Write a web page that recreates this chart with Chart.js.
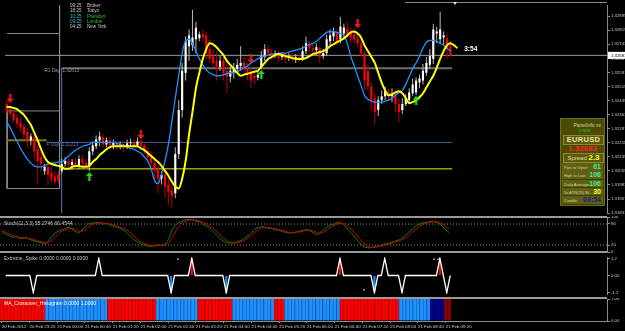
<!DOCTYPE html>
<html>
<head>
<meta charset="utf-8">
<script src="https://cdn.jsdelivr.net/npm/chart.js@4.4.1/dist/chart.umd.min.js"></script>
<style>
  body { margin: 0; background: #000; }
  #wrap { position: relative; width: 625px; height: 331px; background: #000; overflow: hidden;
          font-family: "Liberation Sans", "DejaVu Sans", Arial, sans-serif; }
  canvas { position: absolute; left: 0; background: #000; }
  #c-main { top: 0; }
  #c-stoch { top: 216px; }
  #c-spike { top: 253px; }
  #c-hist { top: 298px; }
  .sep { position: absolute; left: 0; width: 607px; height: 2px; background: #9a9a9a; }
  .pane-lbl { position: absolute; left: 4px; font-size: 5px; line-height: 6px; color: #c4c4c4; white-space: nowrap; }
  #clock { position: absolute; left: 70px; top: 3px; font-size: 4.6px; line-height: 5.3px; white-space: nowrap; }
  #clock span { display: inline-block; width: 17px; }
  #topline { position: absolute; left: 405px; top: 2px; width: 202px; height: 1px; background: #8a8a8a; }
  #shift { position: absolute; left: 453px; top: 2px; width: 0; height: 0;
           border-left: 2.5px solid transparent; border-right: 2.5px solid transparent; border-top: 3px solid #e0e0e0; }
  #panel { position: absolute; left: 560px; top: 118px; width: 45px; height: 88px; background: #4b4b06;
           border: 1px solid #6c6c14; box-sizing: border-box; }
  #panel div { position: absolute; white-space: nowrap; }
  .p-title { right: 3px; top: 3px; font-size: 5px; color: #d4d49a; }
  .p-nrs { left: 18px; top: 9px; font-size: 4px; color: #2fbf2f; }
  .p-box { left: 2px; width: 39px; height: 8px; border: 1px solid #8c8c24; background: #5a5a0e; text-align: center; }
  .p-sym { top: 16px; font-weight: bold; font-size: 7.5px; line-height: 8px; color: #ece4a4; letter-spacing: .3px; }
  .p-price { left: 0; top: 25px; width: 43px; text-align: center; font-weight: bold; font-size: 8px; line-height: 9px; color: #ff2222; }
  .p-spread { top: 34px; font-size: 6px; line-height: 8px; color: #e0dca0; }
  .p-spread b { font-size: 8px; color: #ffff30; }
  .p-row { left: 1px; width: 41px; height: 7.5px; background: #5f5f12; border-bottom: 1px solid #3d3d04; }
  .p-row i { position: absolute; left: 2px; top: 2px; font-style: normal; font-size: 4px; color: #d8d4a0; }
  .p-row b { position: absolute; right: 2px; top: 0; font-size: 7px; line-height: 8px; }
</style>
</head>
<body>
<div id="wrap">
  <canvas id="c-main" width="625" height="218"></canvas>
  <canvas id="c-stoch" width="625" height="37"></canvas>
  <canvas id="c-spike" width="625" height="45"></canvas>
  <canvas id="c-hist" width="625" height="33"></canvas>
  <div class="sep" style="top:216px"></div>
  <div class="sep" style="top:251px"></div>
  <div class="sep" style="top:296.5px"></div>
  <div id="topline"></div>
  <div id="shift"></div>
  <div id="clock"></div>
  <div class="pane-lbl" id="lbl-stoch" style="top:220px"></div>
  <div class="pane-lbl" id="lbl-spike" style="top:254.5px"></div>
  <div class="pane-lbl" id="lbl-hist" style="top:299.5px;color:#fff"></div>
  <div id="panel"></div>
</div>
<script>
const FONT = '"Liberation Sans", "DejaVu Sans", Arial, sans-serif';
Chart.defaults.font.family = FONT;
Chart.defaults.animation = false;

// bar times: EURUSD M5, first bar 20 Feb 2012 22:40
const monthNames = ["Jan", "Feb", "Mar", "Apr", "May", "Jun", "Jul", "Aug", "Sep", "Oct", "Nov", "Dec"];
const firstBarTime = Date.UTC(2012, 1, 20, 22, 40);
const slotCount = 175;
const barTimes = Array.from({ length: slotCount }, (_, i) => {
    const d = new Date(firstBarTime + i * 300000);
    const hm = String(d.getUTCHours()).padStart(2, "0") + ":" + String(d.getUTCMinutes()).padStart(2, "0");
    return d.getUTCDate() + " " + monthNames[d.getUTCMonth()] + " " + (i === 0 ? d.getUTCFullYear() : hm);
});
const timeLabelEvery = 8;
const lastBarIndex = 129;

const openP = [
    1.32420, 1.32393, 1.32372, 1.32346, 1.32319, 1.32298, 1.32271, 1.32224, 1.32240, 1.32176,
    1.32134, 1.32059, 1.32081, 1.32049, 1.32028, 1.32038, 1.32059, 1.32096, 1.32112, 1.32091,
    1.32107, 1.32086, 1.32123, 1.32102, 1.32086, 1.32165, 1.32192, 1.32224, 1.32240, 1.32202,
    1.32224, 1.32197, 1.32213, 1.32192, 1.32202, 1.32187, 1.32208, 1.32213, 1.32197, 1.32218,
    1.32197, 1.32165, 1.32139, 1.32102, 1.32070, 1.32017, 1.32038, 1.31985, 1.31953, 1.31938,
    1.32150, 1.32388, 1.32589, 1.32732, 1.32738, 1.32770, 1.32775, 1.32796, 1.32791, 1.32717,
    1.32679, 1.32653, 1.32621, 1.32653, 1.32600, 1.32568, 1.32589, 1.32611, 1.32626, 1.32642,
    1.32611, 1.32589, 1.32573, 1.32563, 1.32621, 1.32674, 1.32717, 1.32695, 1.32685, 1.32690,
    1.32674, 1.32685, 1.32669, 1.32679, 1.32664, 1.32674, 1.32664, 1.32706, 1.32743, 1.32722,
    1.32711, 1.32722, 1.32679, 1.32695, 1.32759, 1.32785, 1.32807, 1.32770, 1.32801, 1.32828,
    1.32812, 1.32796, 1.32775, 1.32748, 1.32695, 1.32600, 1.32515, 1.32452, 1.32388, 1.32441,
    1.32462, 1.32489, 1.32462, 1.32473, 1.32420, 1.32388, 1.32420, 1.32441, 1.32478, 1.32483,
    1.32536, 1.32547, 1.32589, 1.32632, 1.32664, 1.32801, 1.32770, 1.32780, 1.32775, 1.32738
];
const highP = [
    1.32441, 1.32409, 1.32388, 1.32367, 1.32340, 1.32314, 1.32293, 1.32261, 1.32255, 1.32197,
    1.32165, 1.32096, 1.32112, 1.32081, 1.32059, 1.32059, 1.32123, 1.32134, 1.32128, 1.32123,
    1.32128, 1.32144, 1.32144, 1.32123, 1.32187, 1.32218, 1.32250, 1.32271, 1.32261, 1.32240,
    1.32240, 1.32229, 1.32224, 1.32218, 1.32213, 1.32229, 1.32234, 1.32229, 1.32240, 1.32224,
    1.32213, 1.32187, 1.32165, 1.32123, 1.32091, 1.32059, 1.32059, 1.32017, 1.31985, 1.32187,
    1.32441, 1.32642, 1.32785, 1.32823, 1.32929, 1.32865, 1.32812, 1.32823, 1.32812, 1.32770,
    1.32717, 1.32706, 1.32679, 1.32674, 1.32642, 1.32621, 1.32642, 1.32664, 1.32732, 1.32674,
    1.32642, 1.32621, 1.32600, 1.32600, 1.32706, 1.32743, 1.32738, 1.32717, 1.32711, 1.32706,
    1.32701, 1.32701, 1.32695, 1.32695, 1.32690, 1.32695, 1.32732, 1.32785, 1.32759, 1.32743,
    1.32748, 1.32732, 1.32717, 1.32796, 1.32823, 1.32833, 1.32823, 1.32891, 1.32854, 1.32865,
    1.32833, 1.32823, 1.32812, 1.32770, 1.32706, 1.32632, 1.32536, 1.32483, 1.32462, 1.32494,
    1.32515, 1.32505, 1.32505, 1.32494, 1.32452, 1.32452, 1.32473, 1.32505, 1.32558, 1.32563,
    1.32579, 1.32637, 1.32674, 1.32717, 1.32854, 1.32838, 1.32918, 1.32812, 1.32801, 1.32759
];
const lowP = [
    1.32372, 1.32351, 1.32319, 1.32293, 1.32271, 1.32229, 1.32187, 1.32197, 1.32123, 1.31990,
    1.32059, 1.32038, 1.31980, 1.31996, 1.31985, 1.31985, 1.32043, 1.32081, 1.32070, 1.32065,
    1.32070, 1.32070, 1.32081, 1.32070, 1.32059, 1.32144, 1.32176, 1.32192, 1.32187, 1.32187,
    1.32181, 1.32176, 1.32171, 1.32176, 1.32160, 1.32176, 1.32192, 1.32181, 1.32187, 1.32176,
    1.32150, 1.32112, 1.32081, 1.32006, 1.31938, 1.31985, 1.31911, 1.31879, 1.31858, 1.31911,
    1.32123, 1.32346, 1.32547, 1.32653, 1.32706, 1.32695, 1.32759, 1.32759, 1.32664, 1.32642,
    1.32621, 1.32547, 1.32600, 1.32547, 1.32478, 1.32536, 1.32558, 1.32589, 1.32600, 1.32589,
    1.32547, 1.32505, 1.32526, 1.32547, 1.32611, 1.32653, 1.32674, 1.32664, 1.32669, 1.32653,
    1.32658, 1.32642, 1.32653, 1.32648, 1.32642, 1.32648, 1.32653, 1.32690, 1.32695, 1.32690,
    1.32685, 1.32642, 1.32664, 1.32679, 1.32738, 1.32759, 1.32738, 1.32748, 1.32770, 1.32780,
    1.32748, 1.32748, 1.32727, 1.32674, 1.32494, 1.32494, 1.32388, 1.32308, 1.32356, 1.32420,
    1.32441, 1.32441, 1.32430, 1.32377, 1.32319, 1.32367, 1.32409, 1.32420, 1.32462, 1.32467,
    1.32505, 1.32526, 1.32573, 1.32611, 1.32637, 1.32748, 1.32743, 1.32738, 1.32664, 1.32674
];
const closeP = [
    1.32388, 1.32367, 1.32335, 1.32314, 1.32293, 1.32255, 1.32218, 1.32245, 1.32165, 1.32112,
    1.32096, 1.32081, 1.32038, 1.32017, 1.32001, 1.32006, 1.32096, 1.32112, 1.32091, 1.32107,
    1.32086, 1.32123, 1.32102, 1.32086, 1.32165, 1.32197, 1.32229, 1.32245, 1.32202, 1.32224,
    1.32197, 1.32213, 1.32192, 1.32202, 1.32187, 1.32208, 1.32213, 1.32197, 1.32218, 1.32197,
    1.32165, 1.32134, 1.32102, 1.32059, 1.32017, 1.32038, 1.31975, 1.31943, 1.31922, 1.32150,
    1.32388, 1.32600, 1.32759, 1.32791, 1.32780, 1.32833, 1.32796, 1.32780, 1.32695, 1.32664,
    1.32642, 1.32621, 1.32653, 1.32589, 1.32568, 1.32600, 1.32611, 1.32632, 1.32642, 1.32611,
    1.32579, 1.32547, 1.32558, 1.32579, 1.32679, 1.32717, 1.32695, 1.32679, 1.32695, 1.32669,
    1.32685, 1.32664, 1.32679, 1.32664, 1.32674, 1.32664, 1.32706, 1.32748, 1.32722, 1.32711,
    1.32727, 1.32674, 1.32695, 1.32770, 1.32791, 1.32812, 1.32759, 1.32838, 1.32833, 1.32801,
    1.32780, 1.32770, 1.32748, 1.32695, 1.32547, 1.32515, 1.32441, 1.32377, 1.32441, 1.32462,
    1.32494, 1.32462, 1.32473, 1.32420, 1.32377, 1.32420, 1.32452, 1.32483, 1.32526, 1.32547,
    1.32558, 1.32600, 1.32642, 1.32679, 1.32823, 1.32812, 1.32823, 1.32791, 1.32717, 1.32683
];

// slow (yellow, shifted 2 bars forward) and fast (blue) moving averages
const maSlow = [
    1.32404, 1.32404, 1.32399, 1.32393, 1.32377, 1.32362, 1.32335, 1.32308, 1.32266, 1.32224,
    1.32176, 1.32134, 1.32107, 1.32096, 1.32091, 1.32086, 1.32081, 1.32070, 1.32070, 1.32081,
    1.32086, 1.32086, 1.32081, 1.32081, 1.32086, 1.32107, 1.32123, 1.32144, 1.32160, 1.32176,
    1.32187, 1.32192, 1.32192, 1.32192, 1.32192, 1.32192, 1.32192, 1.32192, 1.32192, 1.32181,
    1.32171, 1.32155, 1.32139, 1.32123, 1.32107, 1.32086, 1.32059, 1.32033, 1.32001, 1.31975,
    1.31964, 1.32017, 1.32112, 1.32255, 1.32377, 1.32505, 1.32589, 1.32664, 1.32717, 1.32748,
    1.32743, 1.32727, 1.32706, 1.32685, 1.32653, 1.32632, 1.32611, 1.32589, 1.32573, 1.32579,
    1.32584, 1.32589, 1.32595, 1.32600, 1.32621, 1.32642, 1.32664, 1.32674, 1.32685, 1.32690,
    1.32685, 1.32679, 1.32674, 1.32669, 1.32664, 1.32664, 1.32664, 1.32669, 1.32679, 1.32690,
    1.32695, 1.32701, 1.32706, 1.32717, 1.32732, 1.32743, 1.32754, 1.32764, 1.32775, 1.32791,
    1.32807, 1.32812, 1.32801, 1.32780, 1.32738, 1.32706, 1.32674, 1.32642, 1.32589, 1.32536,
    1.32494, 1.32467, 1.32473, 1.32483, 1.32489, 1.32478, 1.32452, 1.32425, 1.32430, 1.32441,
    1.32457, 1.32478, 1.32510, 1.32542, 1.32573, 1.32616, 1.32664, 1.32706, 1.32738, 1.32748,
    1.32738, 1.32722
];
const maFast = [
    1.32324, 1.32293, 1.32255, 1.32218, 1.32181, 1.32150, 1.32123, 1.32102, 1.32086, 1.32081,
    1.32081, 1.32086, 1.32096, 1.32102, 1.32102, 1.32107, 1.32107, 1.32123, 1.32139, 1.32155,
    1.32171, 1.32181, 1.32192, 1.32197, 1.32202, 1.32213, 1.32213, 1.32213, 1.32213, 1.32213,
    1.32213, 1.32213, 1.32208, 1.32202, 1.32197, 1.32187, 1.32181, 1.32176, 1.32165, 1.32155,
    1.32134, 1.32112, 1.32070, 1.32006, 1.31990, 1.32043, 1.32112, 1.32202, 1.32324, 1.32452,
    1.32573, 1.32695, 1.32759, 1.32770, 1.32748, 1.32706, 1.32664, 1.32632, 1.32605, 1.32589,
    1.32579, 1.32573, 1.32573, 1.32579, 1.32584, 1.32589, 1.32589, 1.32595, 1.32605, 1.32616,
    1.32626, 1.32642, 1.32653, 1.32664, 1.32674, 1.32679, 1.32685, 1.32690, 1.32690, 1.32695,
    1.32695, 1.32695, 1.32701, 1.32706, 1.32711, 1.32717, 1.32722, 1.32732, 1.32743, 1.32748,
    1.32759, 1.32775, 1.32791, 1.32807, 1.32812, 1.32812, 1.32807, 1.32801, 1.32791, 1.32748,
    1.32679, 1.32626, 1.32573, 1.32521, 1.32467, 1.32446, 1.32436, 1.32430, 1.32430, 1.32430,
    1.32436, 1.32441, 1.32452, 1.32467, 1.32483, 1.32494, 1.32526, 1.32568, 1.32611, 1.32642,
    1.32679, 1.32722, 1.32754, 1.32764, 1.32764, 1.32759, 1.32748, 1.32738, 1.32722, 1.32706
];

// price axis
const priceMin = 1.318315;
const priceMax = 1.329551;
const priceTicks = [1.32895, 1.32819, 1.32743, 1.32667, 1.32591, 1.32515, 1.32439, 1.32363,
                    1.32287, 1.32211, 1.32135, 1.32059, 1.31983, 1.31907, 1.31831];
const bidPrice = 1.32683;

// daily levels
const r1Price = 1.32613;
const pivotPrice = 1.32213;
const prevPivotPrice = 1.32224;
const dayOpenPrice = 1.32070;
const dayStartBar = 15.95;
const levelEndBar = 129.5;
const pivotStartBar = 11.6;
const boxLeftBar = 0.1;
const boxRightBar = 15.36;
const boxHigh = 1.32383;
const boxLow = 1.31964;
const upperBoxLow = 1.32801;

// signal arrows
const sellArrowBars = [1, 39, 71, 102];
const sellArrowPrices = [1.32452, 1.32255, 1.32664, 1.32854];
const buyArrowBars = [24, 74, 119];
const buyArrowPrices = [1.32028, 1.32579, 1.32441];

const timerText = "3:54";
const timerBar = 133;
const timerPrice = 1.32717;

// Stoch(11,3,3)
const stochMain = [
    58, 52, 48, 42, 44, 40, 38, 42, 36, 33,
    30, 28, 24, 27, 38, 50, 58, 62, 66, 70,
    68, 60, 56, 60, 72, 80, 82, 84, 84, 80,
    82, 78, 74, 72, 68, 64, 56, 46, 36, 30,
    24, 20, 17, 16, 18, 20, 19, 22, 35, 60,
    76, 84, 88, 92, 93, 92, 88, 86, 80, 74,
    68, 58, 48, 38, 30, 27, 25, 26, 30, 33,
    40, 46, 55, 66, 70, 72, 70, 68, 66, 63,
    62, 58, 56, 54, 55, 58, 60, 62, 64, 60,
    55, 50, 56, 66, 72, 78, 80, 84, 82, 74,
    62, 52, 40, 28, 18, 13, 12, 14, 16, 17,
    22, 24, 26, 30, 33, 36, 44, 54, 62, 70,
    78, 82, 84, 86, 88, 86, 82, 74, 64, 55.2746
];
const stochSignal = [
    62, 57, 53, 47, 45, 42, 41, 40, 39, 37,
    33, 30, 27, 26, 30, 38, 49, 57, 62, 66,
    68, 66, 61, 59, 63, 71, 78, 82, 83, 83,
    82, 80, 78, 75, 71, 68, 63, 55, 46, 37,
    30, 25, 20, 18, 17, 18, 19, 20, 25, 39,
    57, 73, 83, 88, 91, 92, 91, 89, 85, 80,
    74, 67, 58, 48, 39, 32, 27, 26, 27, 30,
    34, 40, 47, 56, 64, 69, 71, 70, 68, 66,
    64, 61, 59, 56, 55, 56, 58, 60, 62, 62,
    60, 55, 54, 57, 65, 72, 77, 81, 82, 80,
    73, 63, 51, 40, 29, 20, 14, 13, 14, 16,
    18, 21, 24, 27, 30, 33, 38, 45, 53, 62,
    70, 77, 81, 84, 86, 87, 85, 81, 73, 66.4544
];
const stochLevels = [20, 80];
const stochTicks = [0, 20, 80, 100];

// Extreme_Spike
const spikeVals = [
    0, 0, 0, 0, 0, 0, 0, 0, -1.2, 0,
    0, 0, 0, 0, 0, 0, 0, 0, 0, 0,
    0, 0, 0, 0, 0, 0, 0, 1.2, 0, 0,
    0, 0, 0, 0, 0, 0, 0, 0, 0, 0,
    0, 0, 0, 0, 0, 0, 0, 0, -1.2, 0,
    0, 0, 0, 0, 1.2, 0, 0, 0, 0, 0,
    0, 0, 0, 0, -1.2, 0, 0, 0, 0, 0,
    0, 0, 0, 0, 0, 0, 0, 0, 0, 0,
    0, 0, 0, 0, 0, 0, 0, 0, 0, 0,
    0, 0, 0, 0, 0, 0, 0, 1.2, 0, 0,
    0, 0, 0, 0, 0, 0, 0, -1.2, 0, 0,
    1.2, 0, 0, 0, 0, -1.2, 0, 0, 0, 0,
    0, 0, 0, 0, 0, 0, 1.2, 0, -1.2, 0
];
const spikeRedBars = [54, 97, 126];
const spikeBlueBars = [48, 64, 107];
const spikeDotBars = [50, 104, 124.3, 125.4];
const spikeDotVals = [1.15, -1.0, 1.15, 1.15];
const spikeTicks = [-1.2, 0, 1.2];

// MA_Crossover_Histogram: runs of bars per state
const histRuns = [13, 18, 14, 12, 10, 12, 3, 16, 17, 9, 4, 2];
const histStates = ["down", "up", "down", "up", "down", "up", "down", "up", "down", "up", "upWeak", "downWeak"];
const histTicks = [0, 1];

// session clock and info panel
const sessionTimes = ["09:25", "18:25", "10:25", "09:25", "04:25"];
const sessionNames = ["Broker", "Tokyo", "Frankfurt", "London", "New York"];
const sessionOpen = [false, false, true, true, false];
const panelSymbol = "EURUSD";
const panelSpread = "2.3";
const panelLabels = ["Pips to Open:", "High to Low:", "Daily Average:", "5x ATR(20) SL:", "Candle:"];
const panelValues = ["61", "106", "106", "30", "03:54"];

// ---- styling helpers ----
const stateColor = { down: "#ff0000", up: "#1e90ff", upWeak: "#00008b", downWeak: "#8b0000" };
const stateEdge = { down: "#c00000", up: "#1670c8", upWeak: "#000066", downWeak: "#600000" };

const rightAxis = (min, max, values, fmt) => ({
    position: "right",
    min: min,
    max: max,
    afterBuildTicks: (axis) => {
        axis.ticks = values.map((v) => ({ value: v }));
    },
    afterFit: (axis) => {
        axis.width = 18;
        axis.paddingTop = 0;
        axis.paddingBottom = 0;
    },
    grid: { drawOnChartArea: false, tickLength: 3, color: "#8c8c8c" },
    border: { color: "#8c8c8c" },
    ticks: { color: "#c8c8c8", font: { size: 4.3 }, padding: 1, callback: (v) => fmt(v) },
});
const hiddenX = { display: false, grid: { offset: false } };
// linear overlay on the same bar slots, used for levels, arrows and boxes
const overlayX = {
    type: "linear", display: false, offset: false, bounds: "data",
    min: -0.5, max: slotCount - 0.5, grid: { offset: false },
};
const baseOptions = (padding, scales, plugins) => ({
    responsive: false,
    devicePixelRatio: 1,
    animation: false,
    layout: { padding: padding },
    plugins: Object.assign({ legend: { display: false }, tooltip: { enabled: false } }, plugins || {}),
    scales: scales,
});
const segment = (x1, y1, x2, y2, color, width, order, dash) => ({
    type: "line",
    xAxisID: "xl",
    data: [{ x: x1, y: y1 }, { x: x2, y: y2 }],
    borderColor: color,
    borderWidth: width,
    borderDash: dash || [],
    pointRadius: 0,
    order: order,
});

const arrowIcon = (color, up) => {
    const c = document.createElement("canvas");
    c.width = 7;
    c.height = 9;
    const g = c.getContext("2d");
    g.fillStyle = color;
    g.beginPath();
    if (up) {
        g.moveTo(3.5, 0); g.lineTo(7, 4); g.lineTo(4.6, 4); g.lineTo(4.6, 9);
        g.lineTo(2.4, 9); g.lineTo(2.4, 4); g.lineTo(0, 4);
    } else {
        g.moveTo(3.5, 9); g.lineTo(7, 5); g.lineTo(4.6, 5); g.lineTo(4.6, 0);
        g.lineTo(2.4, 0); g.lineTo(2.4, 5); g.lineTo(0, 5);
    }
    g.closePath();
    g.fill();
    return c;
};

// ---- main price pane ----
const isBull = closeP.map((c, i) => c >= openP[i]);
const bodies = openP.map((o, i) => [o, closeP[i]]);
const wicks = lowP.map((l, i) => [l, highP[i]]);

const mainTexts = {
    id: "mainTexts",
    afterDatasetsDraw(chart) {
        const { ctx, scales } = chart;
        const xl = scales.xl;
        const y = scales.y;
        ctx.save();
        ctx.font = "4.6px " + FONT;
        ctx.textBaseline = "top";
        ctx.fillStyle = "#9a9a9a";
        ctx.fillText("R1 Day  " + r1Price.toFixed(5), xl.getPixelForValue(11), y.getPixelForValue(r1Price) + 0.5);
        ctx.fillStyle = "#5a7ab0";
        ctx.fillText("P Day  " + pivotPrice.toFixed(5), xl.getPixelForValue(pivotStartBar), y.getPixelForValue(pivotPrice) + 0.5);
        ctx.font = "bold 6.5px " + FONT;
        ctx.fillStyle = "#ffffff";
        ctx.textBaseline = "middle";
        ctx.fillText(timerText, xl.getPixelForValue(timerBar), y.getPixelForValue(timerPrice));
        ctx.restore();
    },
    afterDraw(chart) {
        const { ctx, chartArea, scales } = chart;
        const yy = scales.y.getPixelForValue(bidPrice);
        ctx.save();
        ctx.fillStyle = "#ffffff";
        ctx.fillRect(chartArea.right + 1, yy - 3.5, 18, 7);
        ctx.fillStyle = "#000000";
        ctx.font = "4.3px " + FONT;
        ctx.textBaseline = "middle";
        ctx.fillText(bidPrice.toFixed(5), chartArea.right + 4, yy);
        ctx.restore();
    },
};

new Chart(document.getElementById("c-main"), {
    type: "bar",
    data: {
        labels: barTimes,
        datasets: [
            {
                type: "scatter", xAxisID: "xl", order: 0,
                data: sellArrowBars.map((b, i) => ({ x: b, y: sellArrowPrices[i] })),
                pointStyle: arrowIcon("#ff1a1a", false),
            },
            {
                type: "scatter", xAxisID: "xl", order: 0,
                data: buyArrowBars.map((b, i) => ({ x: b, y: buyArrowPrices[i] })),
                pointStyle: arrowIcon("#22e622", true),
            },
            {
                type: "line", data: maSlow, order: 1,
                borderColor: "#ffff00", borderWidth: 2, pointRadius: 0, cubicInterpolationMode: "monotone",
            },
            {
                type: "line", data: maFast, order: 2,
                borderColor: "#1e90ff", borderWidth: 1.3, pointRadius: 0, cubicInterpolationMode: "monotone",
            },
            {
                data: bodies, order: 3, grouped: false, barPercentage: 0.62, categoryPercentage: 1,
                backgroundColor: isBull.map((b) => (b ? "#ffffff" : "#ff0000")),
            },
            {
                data: wicks, order: 4, grouped: false, barPercentage: 0.3, categoryPercentage: 1,
                backgroundColor: isBull.map((b) => (b ? "#b4b4b4" : "#b00000")),
            },
            segment(-0.5, bidPrice, slotCount - 0.5, bidPrice, "#9a9a9a", 1, 5),
            segment(dayStartBar, r1Price, levelEndBar, r1Price, "#6e6e6e", 2, 6),
            segment(pivotStartBar, pivotPrice, levelEndBar, pivotPrice, "#46639a", 1, 6),
            segment(boxLeftBar, prevPivotPrice, pivotStartBar, prevPivotPrice, "#7a7a00", 2, 6),
            segment(dayStartBar, dayOpenPrice, levelEndBar, dayOpenPrice, "#f0f000", 1, 6),
            segment(dayStartBar, r1Price, dayStartBar, priceMin, "#46639a", 1, 6),
            segment(boxLeftBar, upperBoxLow, boxRightBar, upperBoxLow, "#8c8c8c", 1, 7),
            segment(boxRightBar, priceMax, boxRightBar, boxLow, "#8c8c8c", 1, 7),
            segment(boxLeftBar, boxHigh, boxRightBar, boxHigh, "#8c8c8c", 1, 7),
            segment(boxLeftBar, boxLow, boxRightBar, boxLow, "#8c8c8c", 1, 7),
            segment(boxLeftBar, boxHigh, boxLeftBar, boxLow, "#8c8c8c", 1, 7),
        ],
    },
    options: baseOptions({ top: 3, bottom: 3, left: 0, right: 0 }, {
        x: hiddenX,
        xl: overlayX,
        y: rightAxis(priceMin, priceMax, priceTicks, (v) => v.toFixed(5)),
    }),
    plugins: [mainTexts],
});

// ---- stochastic pane ----
new Chart(document.getElementById("c-stoch"), {
    type: "line",
    data: {
        labels: barTimes,
        datasets: [
            { data: stochSignal, borderColor: "#d00000", borderWidth: 1, pointRadius: 0, tension: 0.3, order: 0 },
            { data: stochMain, borderColor: "#008c00", borderWidth: 1, pointRadius: 0, tension: 0.3, order: 1 },
        ].concat(stochLevels.map((lv) => segment(-0.5, lv, slotCount - 0.5, lv, "#8c8c8c", 1, 2, [1, 2]))),
    },
    options: baseOptions({ top: 1, bottom: 1, left: 0, right: 0 }, {
        x: Object.assign({ offset: true }, hiddenX),
        xl: overlayX,
        y: rightAxis(0, 100, stochTicks, (v) => String(v)),
    }),
});

// ---- Extreme_Spike pane ----
const spikeFill = (bars) => spikeVals.map((v, i) => (bars.includes(i) ? v : null));
new Chart(document.getElementById("c-spike"), {
    type: "bar",
    data: {
        labels: barTimes,
        datasets: [
            {
                type: "scatter", xAxisID: "xl", order: 0,
                data: spikeDotBars.map((b, i) => ({ x: b, y: spikeDotVals[i] })),
                pointRadius: 0.9, backgroundColor: "#a8a8a8", borderWidth: 0,
            },
            { type: "line", data: spikeVals, borderColor: "#ffffff", borderWidth: 1.3, pointRadius: 0, tension: 0, order: 1 },
            { data: spikeFill(spikeRedBars), backgroundColor: "#ff0000", barPercentage: 0.6, categoryPercentage: 1, grouped: false, order: 2 },
            { data: spikeFill(spikeBlueBars), backgroundColor: "#1e90ff", barPercentage: 0.6, categoryPercentage: 1, grouped: false, order: 2 },
        ],
    },
    options: baseOptions({ top: 2, bottom: 1, left: 0, right: 0 }, {
        x: hiddenX,
        xl: overlayX,
        y: rightAxis(-1.3, 1.3, spikeTicks, (v) => (v === 0 ? "0.00" : String(v))),
    }),
});

// ---- MA crossover histogram + time axis ----
const histValues = [];
const histColors = [];
const histEdges = [];
histRuns.forEach((n, k) => {
    for (let j = 0; j < n; j++) {
        histValues.push(1);
        histColors.push(stateColor[histStates[k]]);
        histEdges.push(stateEdge[histStates[k]]);
    }
});

new Chart(document.getElementById("c-hist"), {
    type: "bar",
    data: {
        labels: barTimes,
        datasets: [{
            data: histValues,
            backgroundColor: histColors,
            borderColor: histEdges,
            borderWidth: { left: 1, right: 0, top: 0, bottom: 0 },
            borderSkipped: false,
            barPercentage: 1,
            categoryPercentage: 1,
        }],
    },
    options: baseOptions({ top: 1, bottom: 0, left: 0, right: 0 }, {
        x: {
            afterBuildTicks: (axis) => {
                axis.ticks = axis.ticks.filter((t) => t.value % timeLabelEvery === 0 && t.value <= lastBarIndex);
            },
            afterFit: (axis) => {
                axis.height = 10;
                axis.paddingLeft = 0;
                axis.paddingRight = 0;
            },
            grid: { drawOnChartArea: false, offset: false, tickLength: 2, color: "#8c8c8c" },
            border: { color: "#8c8c8c" },
            ticks: {
                autoSkip: false, maxRotation: 0, align: "start", padding: 1,
                color: "#c8c8c8", font: { size: 4.4 },
                callback: function (v) { return this.getLabelForValue(v); },
            },
        },
        y: rightAxis(0, 1, histTicks, (v) => v.toFixed(2)),
    }),
});

// ---- text overlays ----
document.getElementById("clock").innerHTML = sessionTimes.map((t, i) => {
    const tc = sessionOpen[i] ? "#22c4c4" : "#c8c8c8";
    const nc = sessionOpen[i] ? "#22c022" : "#c8c8c8";
    return '<div><span style="color:' + tc + '">' + t + '</span><b style="font-weight:normal;color:' + nc + '">' + sessionNames[i] + "</b></div>";
}).join("");

document.getElementById("lbl-stoch").textContent =
    "Stoch(11,3,3) " + stochMain[lastBarIndex].toFixed(4) + " " + stochSignal[lastBarIndex].toFixed(4);
document.getElementById("lbl-spike").textContent = "Extreme_Spike 0.0000 0.0000 0.0000";
document.getElementById("lbl-hist").textContent = "MA_Crossover_Histogram 0.0000 1.0000";

const valueColors = ["#3cf08c", "#3cf08c", "#3cf08c", "#ffff40", "#1a1a80"];
let panelHtml = '<div class="p-title">PanelInfo xx</div><div class="p-nrs">0 NRS</div>';
panelHtml += '<div class="p-box p-sym">' + panelSymbol + "</div>";
panelHtml += '<div class="p-price">' + bidPrice.toFixed(5) + "</div>";
panelHtml += '<div class="p-box p-spread">Spread <b>' + panelSpread + "</b></div>";
panelLabels.forEach((lab, k) => {
    panelHtml += '<div class="p-row" style="top:' + (44 + k * 8.3) + 'px"><i>' + lab + '</i><b style="color:' +
        valueColors[k] + '">' + panelValues[k] + "</b></div>";
});
document.getElementById("panel").innerHTML = panelHtml;
</script>
</body>
</html>
